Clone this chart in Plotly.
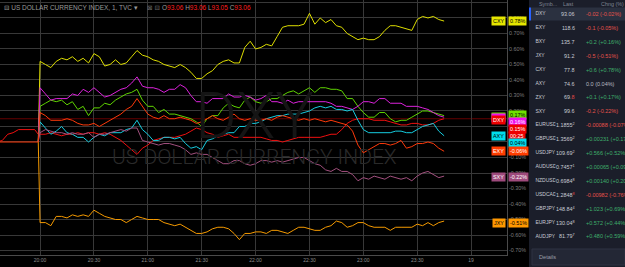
import plotly.graph_objects as go
import pandas as pd

W, H = 625, 267

# ---------------- data ----------------
minutes = [-24, -21, -18, -15, -12, -9, -6, -3, -1,
           0, 3, 6, 9, 12, 15, 18, 21, 24, 27,
           30, 33, 36, 39, 42, 45, 48, 51, 54, 57,
           60, 63, 66, 69, 72, 75, 78, 81, 84, 87,
           90, 93, 96, 99, 102, 105, 108, 111, 114, 117,
           120, 123, 126, 129, 132, 135, 138, 141, 144, 147,
           150, 153, 156, 159, 162, 165, 168, 171, 174, 177,
           180, 183, 186, 189, 192, 195, 198, 201, 204, 207,
           210, 213, 216, 219, 222, 225]

# compared symbols: baseline only at the bar before the 20:00 open
pre_open = [None, None, None, None, None, None, None, None, 0.00]
# EXY line carries the flat pre-open baseline
exy_pre = [0.00, 0.00, 0.00, 0.00, 0.00, 0.00, 0.00, 0.00, 0.00]

dxy = [0.00, 0.01, 0.05, 0.06, 0.08, 0.08, 0.08, 0.08, 0.05,
       0.05, 0.05, 0.06, 0.05, 0.04, 0.05, 0.05, 0.06, 0.05, 0.06,
       0.06, 0.05, 0.06, 0.05, 0.03, 0.01, -0.02, -0.05, -0.08, -0.04,
       -0.02, 0.01, 0.02, 0.03, 0.03, 0.03, 0.04, 0.05, 0.07, 0.09,
       0.08, 0.06, 0.05, 0.03, 0.04, 0.05, 0.03, 0.03, 0.03, 0.03,
       0.03, 0.03, 0.02, 0.01, 0.01, 0.00, 0.01, 0.02, 0.03, 0.03,
       0.03, 0.03, 0.03, 0.04, 0.05, 0.05, 0.08, 0.12, 0.14, 0.15,
       0.15, 0.15, 0.14, 0.14, 0.14, 0.13, 0.12, 0.11, 0.11, 0.12,
       0.12, 0.11, 0.11, 0.12, 0.14, 0.15]

cxy = pre_open + [
    0.52, 0.50, 0.48, 0.52, 0.54, 0.53, 0.55, 0.52, 0.54, 0.51,
    0.57, 0.55, 0.49, 0.50, 0.53, 0.50, 0.51, 0.55, 0.59, 0.56,
    0.55, 0.53, 0.52, 0.50, 0.49, 0.48, 0.50, 0.48, 0.45, 0.41,
    0.41, 0.44, 0.46, 0.50, 0.52, 0.53, 0.51, 0.51, 0.61, 0.65,
    0.60, 0.61, 0.63, 0.62, 0.68, 0.74, 0.75, 0.75, 0.75, 0.76,
    0.83, 0.76, 0.80, 0.77, 0.79, 0.75, 0.74, 0.70, 0.68, 0.66,
    0.67, 0.66, 0.66, 0.68, 0.72, 0.75, 0.75, 0.74, 0.73, 0.72,
    0.79, 0.81, 0.80, 0.81, 0.79, 0.78]

zxy = pre_open + [
    0.23, 0.25, 0.27, 0.26, 0.27, 0.24, 0.26, 0.21, 0.23, 0.17,
    0.22, 0.22, 0.25, 0.24, 0.27, 0.29, 0.31, 0.32, 0.34, 0.27,
    0.23, 0.23, 0.19, 0.21, 0.18, 0.18, 0.17, 0.16, 0.15, 0.13,
    0.10, 0.15, 0.17, 0.17, 0.22, 0.25, 0.23, 0.22, 0.27, 0.29,
    0.26, 0.25, 0.26, 0.28, 0.28, 0.30, 0.32, 0.33, 0.31, 0.33,
    0.35, 0.32, 0.35, 0.35, 0.34, 0.34, 0.33, 0.28, 0.28, 0.23,
    0.19, 0.16, 0.16, 0.19, 0.19, 0.15, 0.13, 0.14, 0.14, 0.16,
    0.18, 0.20, 0.20, 0.19, 0.18, 0.17]

bxy = pre_open + [
    0.35, 0.31, 0.27, 0.28, 0.28, 0.28, 0.31, 0.30, 0.34, 0.32,
    0.35, 0.32, 0.29, 0.30, 0.32, 0.34, 0.35, 0.38, 0.42, 0.36,
    0.35, 0.35, 0.34, 0.32, 0.34, 0.34, 0.37, 0.35, 0.30, 0.26,
    0.26, 0.25, 0.28, 0.28, 0.28, 0.31, 0.29, 0.29, 0.30, 0.29,
    0.27, 0.28, 0.30, 0.26, 0.26, 0.25, 0.27, 0.25, 0.26, 0.26,
    0.26, 0.26, 0.26, 0.26, 0.25, 0.23, 0.23, 0.22, 0.21, 0.23,
    0.26, 0.26, 0.25, 0.28, 0.28, 0.25, 0.25, 0.25, 0.23, 0.23,
    0.23, 0.22, 0.21, 0.19, 0.17, 0.16]

axy = pre_open + [
    0.13, 0.09, 0.05, 0.07, 0.10, 0.06, 0.05, 0.03, 0.03, 0.00,
    0.03, 0.05, 0.04, 0.06, 0.06, 0.06, 0.08, 0.09, 0.14, 0.08,
    0.05, 0.01, 0.01, 0.03, 0.03, 0.02, 0.03, -0.01, -0.04, -0.03,
    -0.05, 0.01, 0.02, 0.04, 0.05, 0.06, 0.06, 0.10, 0.10, 0.12,
    0.12, 0.13, 0.15, 0.16, 0.17, 0.17, 0.18, 0.18, 0.18, 0.19,
    0.20, 0.22, 0.23, 0.22, 0.23, 0.21, 0.21, 0.20, 0.21, 0.14,
    0.08, 0.06, 0.06, 0.06, 0.06, 0.06, 0.07, 0.07, 0.06, 0.06,
    0.08, 0.10, 0.11, 0.12, 0.07, 0.04]

sxy = pre_open + [
    0.06, 0.08, 0.07, 0.06, 0.06, 0.05, 0.06, 0.05, 0.05, 0.06,
    0.03, 0.05, 0.05, 0.06, 0.07, 0.08, 0.07, 0.09, 0.09, 0.01,
    0.00, -0.01, -0.02, -0.01, -0.01, -0.02, -0.03, -0.05, -0.08, -0.07,
    -0.08, -0.08, -0.10, -0.12, -0.14, -0.14, -0.12, -0.12, -0.14, -0.15,
    -0.14, -0.12, -0.12, -0.13, -0.12, -0.13, -0.12, -0.11, -0.10, -0.10,
    -0.12, -0.14, -0.15, -0.18, -0.19, -0.17, -0.19, -0.19, -0.21, -0.25,
    -0.23, -0.24, -0.22, -0.23, -0.24, -0.22, -0.23, -0.24, -0.23, -0.25,
    -0.22, -0.20, -0.19, -0.21, -0.23, -0.22]

jxy = pre_open + [
    -0.52, -0.52, -0.54, -0.48, -0.48, -0.49, -0.47, -0.48, -0.47, -0.48,
    -0.44, -0.46, -0.48, -0.49, -0.50, -0.50, -0.52, -0.50, -0.48, -0.49,
    -0.50, -0.50, -0.50, -0.52, -0.53, -0.54, -0.53, -0.55, -0.57, -0.59,
    -0.59, -0.58, -0.56, -0.55, -0.55, -0.56, -0.59, -0.63, -0.59, -0.59,
    -0.58, -0.58, -0.59, -0.57, -0.57, -0.58, -0.59, -0.57, -0.55, -0.55,
    -0.56, -0.57, -0.57, -0.55, -0.54, -0.51, -0.52, -0.55, -0.54, -0.52,
    -0.52, -0.54, -0.55, -0.55, -0.55, -0.57, -0.55, -0.55, -0.55, -0.55,
    -0.53, -0.54, -0.52, -0.54, -0.52, -0.51]

exy = exy_pre + [
    0.19, 0.17, 0.14, 0.14, 0.14, 0.15, 0.14, 0.12, 0.11, 0.11,
    0.12, 0.10, 0.12, 0.14, 0.16, 0.18, 0.21, 0.23, 0.28, 0.23,
    0.18, 0.16, 0.15, 0.17, 0.15, 0.15, 0.16, 0.15, 0.14, 0.12,
    0.13, 0.15, 0.17, 0.15, 0.14, 0.16, 0.18, 0.15, 0.14, 0.15,
    0.14, 0.14, 0.15, 0.14, 0.16, 0.17, 0.16, 0.15, 0.14, 0.15,
    0.14, 0.15, 0.14, 0.13, 0.14, 0.13, 0.12, 0.11, 0.07, -0.02,
    -0.07, -0.05, -0.03, -0.01, -0.01, -0.02, -0.01, 0.01, -0.04, -0.03,
    -0.01, -0.01, 0.00, -0.01, -0.04, -0.06]

series_names = ["DXY", "CXY", "ZXY", "BXY", "AXY", "SXY", "JXY", "EXY"]
series_values = [dxy, cxy, zxy, bxy, axy, sxy, jxy, exy]
series_colors = ["#f01010", "#dede00", "#5fd400", "#dd22dd", "#16cde0",
                 "#a3507f", "#f59a00", "#ff3a0a"]

tick_minutes = [0, 30, 60, 90, 120, 150, 180, 210, 240]
tick_labels = ["20:00", "20:30", "21:00", "21:30", "22:00", "22:30", "23:00", "23:30", "19"]
y_ticks = [-0.7, -0.6, -0.5, -0.4, -0.3, -0.2, -0.1, 0.0, 0.1, 0.2, 0.3, 0.4, 0.5, 0.6, 0.7, 0.8, 0.9]
y_tick_labels = ["-0.70%", "-0.60%", "-0.50%", "-0.40%", "-0.30%", "-0.20%", "-0.10%", "0.00%",
                 "0.10%", "0.20%", "0.30%", "0.40%", "0.50%", "0.60%", "0.70%", "0.80%", "0.90%"]

# watchlist
wl_symbols = ["DXY", "EXY", "BXY", "JXY", "CXY", "AXY", "ZXY", "SXY", "EURUSD", "GBPUSD",
              "USDJPY", "AUDUSD", "NZDUSD", "USDCAD", "GBPJPY", "EURJPY", "AUDJPY"]
wl_last = ["93.06", "118.6", "135.7", "91.2", "77.8", "74.6", "69.<span style='color:#e04848'>8</span>", "99.6",
           "1.1855<sup>2</sup>", "1.3569<sup>2</sup>", "109.69<sup>2</sup>", "0.7457<sup>1</sup>",
           "0.6984<sup>8</sup>", "1.2848<sup><span style='color:#e04848'>8</span></sup>", "148.84<sup>4</sup>",
           "130.04<sup>8</sup>", "81.79<sup>7</sup>"]
wl_chg = ["-0.02 (-0.02%)", "-0.1 (-0.05%)", "+0.2 (+0.16%)", "-0.5 (-0.51%)", "+0.6 (+0.78%)",
          "0.0 (0.04%)", "+0.1 (+0.17%)", "-0.2 (-0.22%)", "-0.00088 (-0.07%)", "+0.00231 (+0.17%)",
          "+0.566 (+0.52%)", "+0.00065 (+0.09%)", "+0.00140 (+0.20%)", "-0.00982 (-0.76%)",
          "+1.023 (+0.69%)", "+0.572 (+0.44%)", "+0.480 (+0.59%)"]

# ---------------- figure ----------------
base = pd.Timestamp("2021-08-18 20:00")
times = [base + pd.Timedelta(minutes=m) for m in minutes]
FONT = "Liberation Sans"

fig = go.Figure()
for name, vals, col in zip(series_names, series_values, series_colors):
    fig.add_trace(go.Scatter(x=times, y=vals, mode="lines", name=name,
                             line=dict(color=col, width=1), hoverinfo="skip",
                             showlegend=False, connectgaps=False))

# watchlist symbols, clipped to their column
fig.add_trace(go.Scatter(
    x=[0.0] * len(wl_symbols), y=[14 + 13.9 * i for i in range(len(wl_symbols))],
    mode="text", text=wl_symbols, textposition="middle right",
    textfont=dict(size=5.0, color="#c9ccd4", family=FONT),
    xaxis="x2", yaxis="y2", cliponaxis=True, hoverinfo="skip", showlegend=False))

PLOT_R = 507 / W
fig.update_layout(
    width=W, height=H, margin=dict(l=0, r=0, t=0, b=0),
    paper_bgcolor="#000000", plot_bgcolor="#000000",
    font=dict(family=FONT),
    xaxis=dict(domain=[0, PLOT_R], type="date",
               range=[base - pd.Timedelta(minutes=22.3), base + pd.Timedelta(minutes=260)],
               tickvals=[base + pd.Timedelta(minutes=m) for m in tick_minutes],
               ticktext=tick_labels, tickfont=dict(size=5, color="#8c8c8c"),
               showgrid=True, gridcolor="#383838", gridwidth=1, zeroline=False,
               showline=True, linecolor="#4a4a4a", linewidth=1, ticks=""),
    yaxis=dict(domain=[12 / H, 1], side="right", range=[-0.729, 0.916],
               tickvals=y_ticks, ticktext=y_tick_labels,
               tickfont=dict(size=5.4, color="#7c7c7c"),
               showgrid=True, gridcolor="#383838", gridwidth=1, zeroline=False,
               showline=True, linecolor="#4a4a4a", linewidth=1, ticks=""),
    xaxis2=dict(domain=[531 / W, 555.5 / W], range=[-0.22, 1], visible=False, fixedrange=True),
    yaxis2=dict(domain=[0, 1], range=[H, 0], visible=False, anchor="x2", fixedrange=True),
)

shapes = []
# DXY price line
shapes.append(dict(type="line", xref="paper", yref="y", x0=0, x1=PLOT_R, y0=0.15, y1=0.15,
                   line=dict(color="#640000", width=1), layer="below"))
# watchlist panel
shapes.append(dict(type="rect", xref="paper", yref="paper", x0=529 / W, x1=1, y0=0, y1=1,
                   fillcolor="#1b1e2a", line=dict(width=0), layer="below"))
shapes.append(dict(type="rect", xref="paper", yref="paper", x0=531 / W, x1=1,
                   y0=1 - 20.5 / H, y1=1 - 7.5 / H, fillcolor="#2b3140", line=dict(width=0), layer="below"))
shapes.append(dict(type="rect", xref="paper", yref="paper", x0=529 / W, x1=531 / W,
                   y0=1 - 20.5 / H, y1=1 - 7.5 / H, fillcolor="#2962ff", line=dict(width=0)))
shapes.append(dict(type="rect", xref="paper", yref="paper", x0=532 / W, x1=1,
                   y0=1 - 265 / H, y1=1 - 249 / H, fillcolor="#232735",
                   line=dict(color="#2e3342", width=1), layer="below"))
fig.update_layout(shapes=shapes)

ann = []


def A(px, py, text, size=5.6, color="#c9ccd4", xanchor="left", bg=None, family=FONT, weight=None, pad=1):
    f = dict(size=size, color=color, family=family)
    if weight:
        f["weight"] = weight
    d = dict(x=px / W, y=1 - py / H, xref="paper", yref="paper", xanchor=xanchor, yanchor="middle",
             text=text, showarrow=False, font=f, borderpad=pad)
    if bg:
        d["bgcolor"] = bg
    ann.append(d)


# watermark
A(255, 117, "DXY", size=64, color="#151515", xanchor="center", family="Roboto", weight=300)
A(255, 157, "US DOLLAR CURRENCY INDEX", size=21, color="#2a2a2a", xanchor="center",
  family="Roboto", weight=300)

# legend top-left
A(2, 8, "<span style='font-family:DejaVu Sans'>⊟</span> US DOLLAR CURRENCY INDEX, 1, TVC ▾",
  size=6.5, color="#9a9a9a")
A(145, 8, "<span style='font-family:DejaVu Sans'>⊠ ⊟</span>", size=6.5, color="#6a6a6a")
A(160, 8, "O<span style='color:#ff1f1f'>93.06</span> H<span style='color:#ff1f1f'>93.06</span> "
          "L<span style='color:#ff1f1f'>93.05</span> C<span style='color:#ff1f1f'>93.06</span>",
  size=6.5, color="#9a9a9a")

# series name labels on the price scale (ZXY/BXY mostly hidden behind DXY)
name_labels = [("ZXY", 116.5, "#6fe000", "#000000"), ("BXY", 117.5, "#ee10ee", "#ffffff"),
               ("DXY", 119.5, "#ee0000", "#ffffff"), ("CXY", 21, "#e6e600", "#000000"),
               ("AXY", 136, "#00dcec", "#000000"), ("EXY", 151, "#ff3d00", "#ffffff"),
               ("SXY", 177, "#9e4a7c", "#ffffff"), ("JXY", 223, "#ff9800", "#000000")]
for t, py, bg, fc in name_labels:
    A(506, py, t, size=5.4, color=fc, xanchor="right", bg=bg)

value_labels = [("0.78%", 21, "#e6e600", "#000000"), ("0.17%", 114.5, "#6fe000", "#000000"),
                ("0.16%", 121.5, "#ee10ee", "#ffffff"), ("0.15%", 128.5, "#ee0000", "#ffffff"),
                ("00:25", 135.5, "#ee0000", "#ffffff"), ("0.04%", 143, "#00dcec", "#000000"),
                ("-0.06%", 151, "#ff3d00", "#ffffff"), ("-0.22%", 177, "#9e4a7c", "#ffffff"),
                ("-0.51%", 223, "#ff9800", "#000000")]
for t, py, bg, fc in value_labels:
    A(507.5, py, t, size=5.4, color=fc, xanchor="left", bg=bg)

# watchlist header
A(537, 3.5, "Symb...", size=5.4, color="#7f8594")
A(576, 3.5, "Last", size=5.4, color="#7f8594", xanchor="right")
A(599, 3.5, "Chng (%)", size=5.4, color="#7f8594")

for i, (lst, chg) in enumerate(zip(wl_last, wl_chg)):
    py = 14 + 13.9 * i
    A(577, py, lst, size=5.4, color="#c9ccd4", xanchor="right")
    if chg.startswith("-"):
        c = "#e5534b"
    elif chg.startswith("+"):
        c = "#3fae6a"
    else:
        c = "#b8bbc4"
    A(584, py, chg, size=5.5, color=c)

A(537, 257, "Details", size=5.6, color="#9a9ea9")

fig.update_layout(annotations=ann)
fig.write_html("out.html")
